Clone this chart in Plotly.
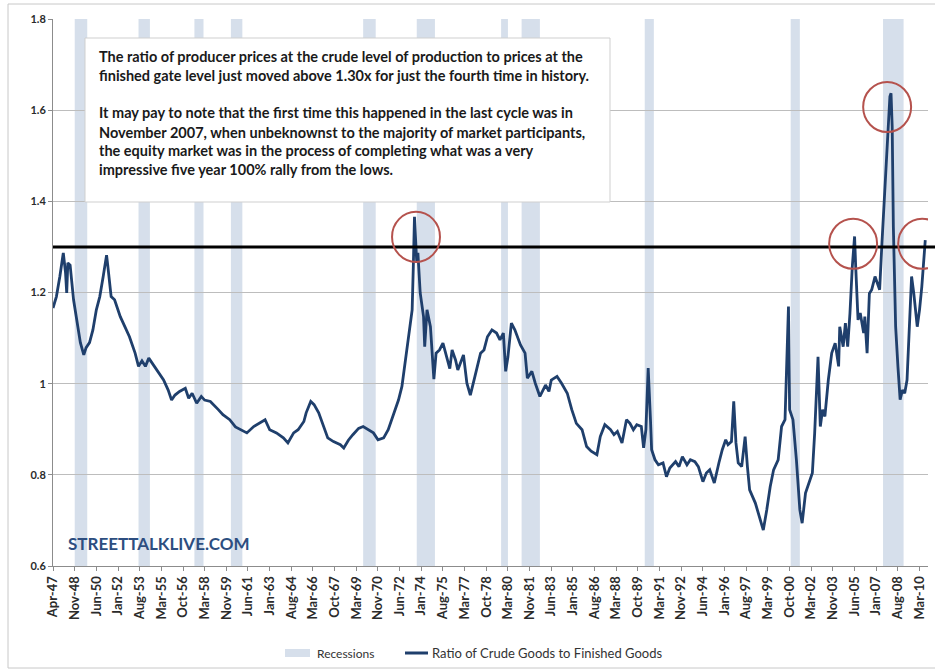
import pandas as pd
import plotly.graph_objects as go

# ---- data -----------------------------------------------------------------
months = [
    "1947-04", "1947-07", "1947-10", "1948-01", "1948-03", "1948-04", "1948-05", "1948-07",
    "1948-10", "1949-01", "1949-04", "1949-07", "1949-09", "1949-12", "1950-03", "1950-06",
    "1950-09", "1950-12", "1951-03", "1951-04", "1951-07", "1951-10", "1952-03", "1952-07",
    "1952-11", "1953-04", "1953-07", "1953-10", "1954-01", "1954-04", "1954-08", "1954-12",
    "1955-05", "1955-09", "1955-12", "1956-03", "1956-07", "1956-12", "1957-03", "1957-06",
    "1957-10", "1958-02", "1958-05", "1958-10", "1959-01", "1959-05", "1959-09", "1960-03",
    "1960-08", "1961-06", "1961-12", "1962-06", "1962-10", "1963-02", "1963-08", "1964-02",
    "1964-06", "1964-11", "1965-03", "1965-08", "1965-10", "1966-02", "1966-05", "1966-09",
    "1967-01", "1967-05", "1967-10", "1968-04", "1968-07", "1968-11", "1969-03", "1969-08",
    "1969-12", "1970-05", "1970-09", "1971-01", "1971-06", "1971-10", "1972-02", "1972-07",
    "1972-10", "1973-01", "1973-04", "1973-07", "1973-08", "1973-09", "1973-11", "1973-12",
    "1974-02", "1974-05", "1974-06", "1974-08", "1974-11", "1975-02", "1975-04", "1975-07",
    "1975-10", "1976-01", "1976-04", "1976-06", "1976-09", "1976-11", "1977-04", "1977-07",
    "1977-10", "1978-02", "1978-07", "1978-10", "1979-01", "1979-05", "1979-09", "1979-12",
    "1980-03", "1980-05", "1980-07", "1980-10", "1981-01", "1981-06", "1981-10", "1981-12",
    "1982-04", "1982-07", "1982-11", "1983-04", "1983-07", "1983-09", "1984-02", "1984-06",
    "1984-11", "1985-03", "1985-07", "1985-12", "1986-04", "1986-08", "1987-01", "1987-04",
    "1987-08", "1988-01", "1988-04", "1988-07", "1988-11", "1989-03", "1989-06", "1989-09",
    "1989-12", "1990-04", "1990-06", "1990-08", "1990-10", "1990-12", "1991-01", "1991-04",
    "1991-07", "1991-11", "1992-02", "1992-05", "1992-10", "1993-01", "1993-04", "1993-08",
    "1993-11", "1994-03", "1994-06", "1994-10", "1995-01", "1995-04", "1995-08", "1995-12",
    "1996-03", "1996-06", "1996-08", "1996-11", "1997-01", "1997-03", "1997-05", "1997-08",
    "1997-11", "1998-01", "1998-03", "1998-08", "1998-11", "1999-02", "1999-03", "1999-06",
    "1999-09", "1999-12", "2000-04", "2000-07", "2000-10", "2001-01", "2001-02", "2001-05",
    "2001-08", "2001-11", "2002-01", "2002-04", "2002-07", "2002-10", "2002-12", "2003-03",
    "2003-05", "2003-07", "2003-09", "2003-12", "2004-03", "2004-06", "2004-09", "2004-10",
    "2005-01", "2005-03", "2005-05", "2005-07", "2005-09", "2005-11", "2005-12", "2006-02",
    "2006-04", "2006-07", "2006-08", "2006-10", "2006-12", "2007-02", "2007-05", "2007-07",
    "2007-09", "2007-11", "2008-02", "2008-04", "2008-06", "2008-07", "2008-08", "2008-09",
    "2008-11", "2009-01", "2009-03", "2009-05", "2009-07", "2009-09", "2009-11", "2010-01",
    "2010-03", "2010-06", "2010-08", "2010-10", "2011-01",
]

ratio = [
    1.166, 1.191, 1.235, 1.287, 1.243, 1.199, 1.265, 1.260,
    1.184, 1.140, 1.090, 1.063, 1.079, 1.090, 1.118, 1.162,
    1.191, 1.235, 1.282, 1.260, 1.191, 1.184, 1.147, 1.125,
    1.103, 1.067, 1.038, 1.050, 1.038, 1.056, 1.041, 1.027,
    1.008, 0.986, 0.964, 0.975, 0.983, 0.990, 0.968, 0.979,
    0.957, 0.972, 0.964, 0.961, 0.954, 0.943, 0.932, 0.921,
    0.905, 0.892, 0.906, 0.914, 0.921, 0.899, 0.892, 0.881,
    0.870, 0.892, 0.899, 0.917, 0.936, 0.961, 0.954, 0.936,
    0.906, 0.881, 0.873, 0.866, 0.859, 0.876, 0.888, 0.902,
    0.906, 0.899, 0.892, 0.877, 0.881, 0.899, 0.928, 0.964,
    0.994, 1.052, 1.111, 1.162, 1.257, 1.366, 1.265, 1.287,
    1.199, 1.147, 1.081, 1.162, 1.125, 1.010, 1.067, 1.074,
    1.089, 1.059, 1.033, 1.074, 1.052, 1.030, 1.063, 1.001,
    0.975, 1.016, 1.067, 1.074, 1.103, 1.118, 1.111, 1.096,
    1.111, 1.027, 1.059, 1.133, 1.118, 1.085, 1.067, 1.012,
    1.027, 1.001, 0.972, 0.997, 0.983, 1.008, 1.016, 1.001,
    0.979, 0.943, 0.913, 0.899, 0.862, 0.852, 0.844, 0.884,
    0.910, 0.899, 0.888, 0.895, 0.870, 0.921, 0.913, 0.899,
    0.910, 0.906, 0.859, 0.899, 1.034, 0.921, 0.855, 0.833,
    0.822, 0.826, 0.796, 0.815, 0.829, 0.818, 0.840, 0.822,
    0.833, 0.829, 0.818, 0.785, 0.804, 0.811, 0.782, 0.826,
    0.855, 0.877, 0.866, 0.873, 0.961, 0.870, 0.826, 0.818,
    0.884, 0.818, 0.767, 0.738, 0.712, 0.687, 0.679, 0.723,
    0.774, 0.811, 0.833, 0.906, 0.921, 1.169, 0.943, 0.921,
    0.833, 0.723, 0.694, 0.760, 0.782, 0.804, 0.891, 1.059,
    0.906, 0.943, 0.928, 1.008, 1.067, 1.089, 1.038, 1.125,
    1.081, 1.133, 1.081, 1.155, 1.257, 1.323, 1.257, 1.140,
    1.155, 1.111, 1.147, 1.067, 1.198, 1.206, 1.235, 1.220,
    1.206, 1.308, 1.440, 1.542, 1.630, 1.637, 1.564, 1.345,
    1.125, 1.038, 0.965, 0.986, 0.979, 1.008, 1.125, 1.235,
    1.198, 1.125, 1.162, 1.213, 1.315,
]

recession_start = ["1948-11", "1953-07", "1957-08", "1960-04", "1969-12", "1973-11",
                   "1980-01", "1981-07", "1990-07", "2001-03", "2007-12"]
recession_end = ["1949-10", "1954-05", "1958-04", "1961-02", "1970-11", "1975-03",
                 "1980-07", "1982-11", "1991-03", "2001-11", "2009-06"]

threshold = 1.30

tick_labels = [
    "Apr-47", "Nov-48", "Jun-50", "Jan-52", "Aug-53", "Mar-55", "Oct-56", "Mar-58",
    "Nov-59", "Jun-61", "Jan-63", "Aug-64", "Mar-66", "Oct-67", "Mar-69", "Nov-70",
    "Jun-72", "Jan-74", "Aug-75", "Mar-77", "Oct-78", "Mar-80", "Nov-81", "Jun-83",
    "Jan-85", "Aug-86", "Mar-88", "Oct-89", "Mar-91", "Nov-92", "Jun-94", "Jan-96",
    "Aug-97", "Mar-99", "Oct-00", "Mar-02", "Nov-03", "Jun-05", "Jan-07", "Aug-08",
    "Mar-10",
]

y_ticks = [0.6, 0.8, 1.0, 1.2, 1.4, 1.6, 1.8]
y_tick_text = ["0.6", "0.8", "1", "1.2", "1.4", "1.6", "1.8"]

# highlighted crossings of the 1.30x level (centre date, centre value)
highlight_dates = ["1973-10-12", "2005-09-23", "2008-03-19", "2010-10-10"]
highlight_values = [1.322, 1.307, 1.607, 1.307]

note_lines = [
    "The ratio of producer prices at the crude level of production to prices at the",
    "finished gate level just moved above 1.30x for just the fourth time in history.",
    "It may pay to note that the first time this happened in the last cycle was in",
    "November 2007, when unbeknownst to the majority of market participants,",
    "the equity market was in the process of completing what was a very",
    "impressive five year 100% rally from the lows.",
]

# ---- layout geometry (pixels) --------------------------------------------
W, H = 935, 671
PL, PR, PT, PB = 53, 928, 19, 566


def px_x(p):
    return (p - PL) / (PR - PL)


def px_y(p):
    return (PB - p) / (PB - PT)


FONT = "Lato"
LINE_COLOR = "#1f3f6c"
BAND_COLOR = "#d6dfeb"
CIRCLE_COLOR = "#b5524d"

dates = pd.to_datetime(months, format="%Y-%m")
tick_pos = pd.date_range("1947-04-01", periods=len(tick_labels), freq="19MS")

fig = go.Figure()
fig.add_trace(go.Scatter(
    x=dates, y=ratio, mode="lines",
    line=dict(color=LINE_COLOR, width=2.8),
    name="Ratio of Crude Goods to Finished Goods",
    showlegend=False, hoverinfo="x+y",
))

shapes = []
for s, e in zip(recession_start, recession_end):
    shapes.append(dict(type="rect", xref="x", yref="paper",
                       x0=pd.Timestamp(s + "-01"), x1=pd.Timestamp(e + "-01"),
                       y0=0, y1=1, fillcolor=BAND_COLOR, line=dict(width=0),
                       layer="below"))

# text box
shapes.append(dict(type="rect", xref="paper", yref="paper",
                   x0=px_x(85), x1=px_x(610), y0=px_y(202), y1=px_y(38),
                   fillcolor="white", line=dict(color="#cfcfcf", width=1),
                   layer="above"))

# 1.30x reference line
shapes.append(dict(type="line", xref="paper", yref="y",
                   x0=0, x1=px_x(945), y0=threshold, y1=threshold,
                   line=dict(color="black", width=3), layer="above"))

# circles around the crossings
RX_DAYS = 640
RY = 0.055
for d, v in zip(highlight_dates, highlight_values):
    c = pd.Timestamp(d)
    shapes.append(dict(type="circle", xref="x", yref="y",
                       x0=c - pd.Timedelta(days=RX_DAYS), x1=c + pd.Timedelta(days=RX_DAYS),
                       y0=v - RY, y1=v + RY,
                       line=dict(color=CIRCLE_COLOR, width=2), layer="above"))

# chart border
shapes.append(dict(type="rect", xref="paper", yref="paper",
                   x0=px_x(8), x1=px_x(950), y0=px_y(668), y1=px_y(4),
                   line=dict(color="#c8c8c8", width=1), fillcolor="rgba(0,0,0,0)",
                   layer="above"))

# legend keys
shapes.append(dict(type="rect", xref="paper", yref="paper",
                   x0=px_x(285), x1=px_x(310), y0=px_y(657), y1=px_y(649),
                   fillcolor=BAND_COLOR, line=dict(width=0)))
shapes.append(dict(type="line", xref="paper", yref="paper",
                   x0=px_x(405), x1=px_x(428), y0=px_y(653), y1=px_y(653),
                   line=dict(color=LINE_COLOR, width=3)))

annotations = []
note_y = [56, 75, 113, 132, 150, 169]
for txt, yy in zip(note_lines, note_y):
    annotations.append(dict(text=txt, xref="paper", yref="paper",
                            x=px_x(97), y=px_y(yy), xanchor="left", yanchor="middle",
                            showarrow=False,
                            font=dict(family=FONT, size=14.5, color="#1a1a1a",
                                      weight="bold")))

annotations.append(dict(text="STREETTALKLIVE.COM", xref="paper", yref="paper",
                        x=px_x(66), y=px_y(543), xanchor="left", yanchor="middle",
                        showarrow=False,
                        font=dict(family=FONT, size=17, color="#2d4e80", weight="bold")))

annotations.append(dict(text="Recessions", xref="paper", yref="paper",
                        x=px_x(315), y=px_y(653), xanchor="left", yanchor="middle",
                        showarrow=False, font=dict(family=FONT, size=12, color="#333333")))
annotations.append(dict(text="Ratio of Crude Goods to Finished Goods", xref="paper", yref="paper",
                        x=px_x(430), y=px_y(653), xanchor="left", yanchor="middle",
                        showarrow=False, font=dict(family=FONT, size=13, color="#333333")))

fig.update_layout(
    width=W, height=H, autosize=False,
    margin=dict(l=PL, r=W - PR, t=PT, b=H - PB, pad=0),
    paper_bgcolor="white", plot_bgcolor="white",
    showlegend=False,
    shapes=shapes, annotations=annotations,
    xaxis=dict(
        type="date", range=["1947-04-01", "2011-03-15"],
        tickmode="array", tickvals=tick_pos, ticktext=tick_labels,
        tickangle=-90, ticks="outside", ticklen=4, tickcolor="#8c8c8c",
        showline=True, linecolor="#8c8c8c", linewidth=1,
        showgrid=False, zeroline=False,
        tickfont=dict(family=FONT, size=13, color="#2b2b2b", weight="bold"),
    ),
    yaxis=dict(
        range=[0.6, 1.8], tickmode="array", tickvals=y_ticks, ticktext=y_tick_text,
        ticks="outside", ticklen=4, tickcolor="#8c8c8c",
        showline=True, linecolor="#8c8c8c", linewidth=1,
        showgrid=True, gridcolor="#bdbdbd", gridwidth=1, zeroline=False,
        tickfont=dict(family=FONT, size=11, color="#2b2b2b", weight="bold"),
    ),
)

fig.write_html("out.html")
